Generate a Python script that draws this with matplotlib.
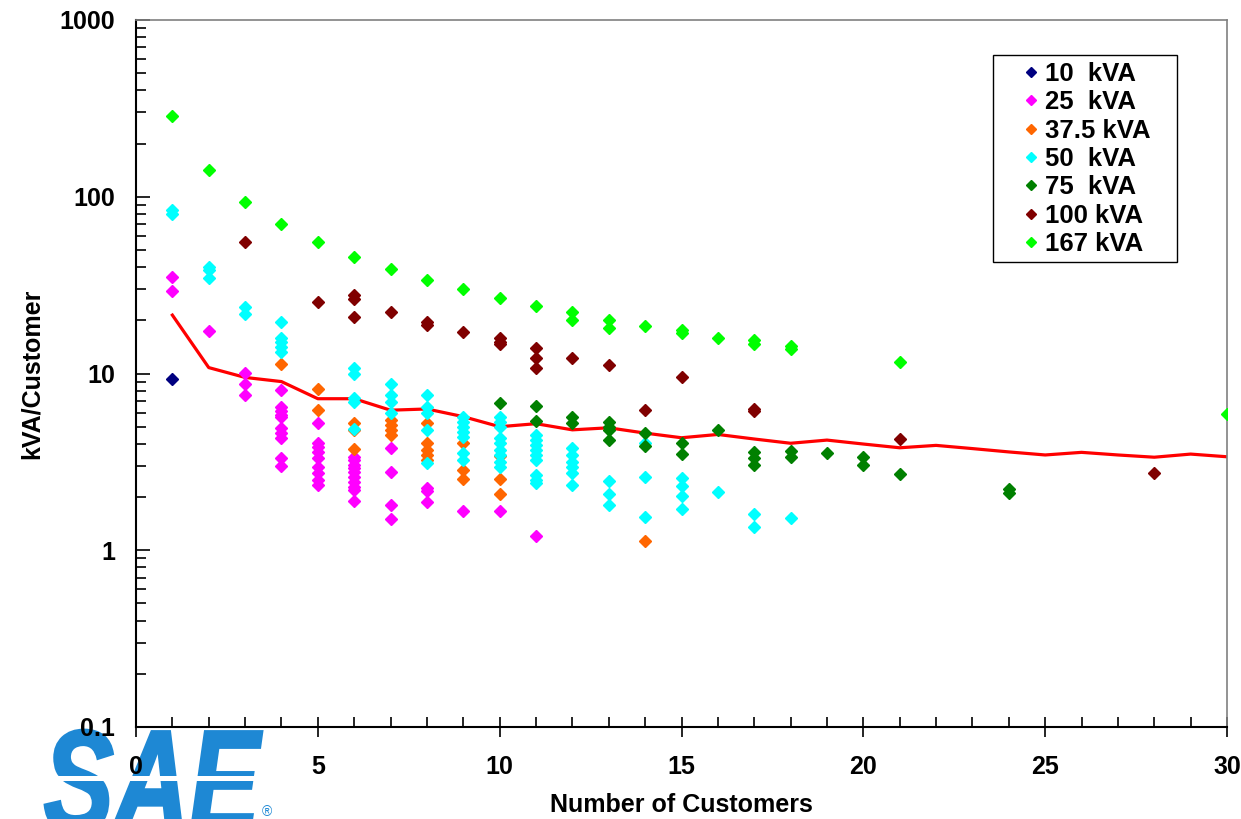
import matplotlib
matplotlib.use("Agg")
import matplotlib.pyplot as plt
from matplotlib.ticker import MultipleLocator, LogLocator, NullFormatter, FuncFormatter
from matplotlib.textpath import TextPath
from matplotlib.patches import PathPatch, Rectangle
from matplotlib.font_manager import FontProperties
from matplotlib.transforms import Affine2D

plt.rcParams['font.family'] = ['Liberation Sans', 'DejaVu Sans']

# ---- data: (number of customers, kVA per customer) ----
cust_10 = [1]
kva_10 = [9.3]

cust_25 = [1, 1, 2, 3, 3, 3,
           4, 4, 4, 4, 4, 4, 4, 4, 4, 4,
           5, 5, 5, 5, 5, 5, 5, 5, 5,
           6, 6, 6, 6, 6, 6, 6, 6, 6, 6,
           7, 7, 7, 7, 8, 8, 8, 9, 10, 11]
kva_25 = [35.3, 29.4, 17.4, 10.1, 8.7, 7.55,
          8.07, 6.49, 6.16, 5.82, 5.65, 4.90, 4.58, 4.30, 3.31, 3.01,
          5.27, 4.03, 3.85, 3.61, 3.31, 2.97, 2.72, 2.50, 2.34,
          3.38, 3.24, 3.04, 2.91, 2.78, 2.61, 2.44, 2.29, 2.19, 1.90,
          3.78, 2.76, 1.80, 1.50, 2.24, 2.17, 1.88, 1.67, 1.67, 1.21]

cust_375 = [4, 5, 5, 6, 6, 6, 7, 7, 7, 7, 8, 8, 8, 8, 8, 9, 9, 9, 10, 10, 10, 14]
kva_375 = [11.3, 8.2, 6.2, 5.23, 4.79, 3.72, 5.46, 5.11, 4.79, 4.49,
           5.23, 4.03, 3.69, 3.47, 3.24, 4.03, 2.85, 2.52, 3.41, 2.52, 2.08, 1.13]

cust_50 = [1, 1, 2, 2, 2, 3, 3, 4, 4, 4, 4, 4,
           6, 6, 6, 6, 6, 7, 7, 7, 7, 8, 8, 8, 8, 8,
           9, 9, 9, 9, 9, 9, 9,
           10, 10, 10, 10, 10, 10, 10, 10, 10,
           11, 11, 11, 11, 11, 11, 11, 11, 11,
           12, 12, 12, 12, 12, 12, 13, 13, 13, 14, 14, 14,
           15, 15, 15, 15, 16, 17, 17, 18]
kva_50 = [84, 80, 40.2, 38.5, 34.6, 23.9, 21.6, 19.5, 15.8, 15.1, 14.2, 13.3,
          10.7, 10.0, 7.24, 6.93, 4.83, 8.69, 7.55, 6.93, 5.96, 7.55, 6.49, 5.96, 4.79, 3.13,
          5.70, 5.33, 5.00, 4.69, 4.39, 3.53, 3.24,
          5.70, 5.33, 5.00, 4.30, 4.03, 3.69, 3.46, 3.17, 2.97,
          4.49, 4.20, 3.93, 3.69, 3.47, 3.24, 2.67, 2.50, 2.39,
          3.78, 3.47, 3.17, 2.97, 2.72, 2.34, 2.48, 2.08, 1.80, 4.06, 2.59, 1.55,
          2.55, 2.31, 2.03, 1.71, 2.13, 1.60, 1.35, 1.52]

cust_75 = [10, 11, 11, 12, 12, 13, 13, 13, 13, 14, 14, 15, 15, 16,
           17, 17, 17, 18, 18, 19, 20, 20, 21, 24, 24]
kva_75 = [6.78, 6.57, 5.39, 5.70, 5.23, 5.33, 5.0, 4.77, 4.20, 4.59, 3.91, 4.03, 3.50, 4.79,
          3.61, 3.31, 3.04, 3.65, 3.38, 3.53, 3.38, 3.04, 2.69, 2.21, 2.10]

cust_100 = [3, 5, 6, 6, 6, 7, 8, 8, 9, 10, 10, 10, 11, 11, 11, 12, 13, 14, 15, 17, 17, 21, 28]
kva_100 = [55.5, 25.5, 27.8, 26.4, 20.9, 22.4, 19.6, 18.8, 17.2, 15.8, 15.1, 14.6,
           14.0, 12.3, 10.8, 12.2, 11.2, 6.19, 9.5, 6.3, 6.1, 4.26, 2.75]

cust_167 = [1, 2, 3, 4, 5, 6, 7, 8, 9, 10, 11, 12, 12, 13, 13, 14, 15, 15, 16,
            17, 17, 18, 18, 21, 30]
kva_167 = [286, 141.7, 93.8, 69.8, 55.5, 45.8, 39.0, 33.8, 30.1, 26.6, 24.2, 22.4, 20.1,
           20.1, 18.2, 18.6, 17.6, 17.0, 15.8, 15.5, 14.7, 14.3, 13.8, 11.6, 5.9]

# average curve
avg_cust = list(range(1, 31))
avg_kva = [21.4, 10.8, 9.5, 9.0, 7.2, 7.2, 6.2, 6.3, 5.7, 5.0,
           5.2, 4.8, 4.93, 4.6, 4.33, 4.52, 4.26, 4.03, 4.2, 3.99,
           3.80, 3.92, 3.76, 3.6, 3.46, 3.58, 3.46, 3.36, 3.50, 3.38]

series = [
    ("10  kVA", cust_10, kva_10, "#000080"),
    ("25  kVA", cust_25, kva_25, "#FF00FF"),
    ("37.5 kVA", cust_375, kva_375, "#FF6600"),
    ("50  kVA", cust_50, kva_50, "#00FFFF"),
    ("75  kVA", cust_75, kva_75, "#008000"),
    ("100 kVA", cust_100, kva_100, "#800000"),
    ("167 kVA", cust_167, kva_167, "#00FF00"),
]


def add_logo(fig):
    """Rough SAE logo drawn as a stretched text path in pixel coords."""
    prop = FontProperties(family="Liberation Sans", weight="bold", style="italic")
    tp = TextPath((0, 0), "SAE", size=100, prop=prop)
    bb = tp.get_extents()
    h = fig.bbox.height
    x0, x1 = 45, 262
    top, bottom = 730, 832
    trans = (Affine2D().translate(-bb.x0, -bb.y0)
             .scale((x1 - x0) / bb.width, (bottom - top) / bb.height)
             .translate(x0, h - bottom))
    logo = PathPatch(trans.transform_path(tp), facecolor="#1E88D4", edgecolor="#1E88D4",
                     lw=2, transform=None, zorder=-2)
    fig.add_artist(logo)
    stripe = Rectangle((40, h - 781), 230, 5, facecolor="white", edgecolor="none",
                       transform=None, zorder=-1)
    fig.add_artist(stripe)
    fig.text(262 / fig.bbox.width, 1 - 812 / h, "\u00ae", color="#1E88D4",
             fontsize=10, ha="left", va="center", zorder=-1)


fig = plt.figure(figsize=(12.41, 8.19), dpi=100)
ax = fig.add_axes([136 / 1241, 1 - 727 / 819, 1091 / 1241, 707 / 819])
ax.set_facecolor("none")

ax.plot(avg_cust, avg_kva, color="#FF0000", lw=2.3, zorder=2)
for label, xs, ys, c in series:
    ax.plot(xs, ys, "D", ms=6.3, color=c, mec=c, linestyle="none", label=label, zorder=3)

ax.set_yscale("log")
ax.set_xlim(0, 30)
ax.set_ylim(0.1, 1000)

ax.xaxis.set_major_locator(MultipleLocator(5))
ax.xaxis.set_minor_locator(MultipleLocator(1))
ax.yaxis.set_major_locator(LogLocator(base=10))
ax.yaxis.set_minor_locator(LogLocator(base=10, subs=range(2, 10)))
ax.yaxis.set_minor_formatter(NullFormatter())
ax.yaxis.set_major_formatter(FuncFormatter(lambda v, p: f"{v:g}"))

ax.tick_params(axis="x", which="major", direction="inout", length=14, width=1.2,
               pad=13, labelsize=18)
ax.tick_params(axis="x", which="minor", direction="in", length=7, width=1.2)
ax.tick_params(axis="y", which="major", direction="in", length=10, width=1.2,
               pad=15, labelsize=18)
ax.tick_params(axis="y", which="minor", direction="in", length=7, width=1.2)
for t in ax.get_xticklabels() + ax.get_yticklabels():
    t.set_fontweight("bold")

for side in ["left", "bottom"]:
    ax.spines[side].set_linewidth(1.5)
    ax.spines[side].set_color("black")
for side in ["top", "right"]:
    ax.spines[side].set_linewidth(1.2)
    ax.spines[side].set_color("#808080")

ax.set_xlabel("Number of Customers", fontsize=18, fontweight="bold")
ax.set_ylabel("kVA/Customer", fontsize=18, fontweight="bold")
ax.xaxis.set_label_coords(0.5, -0.094)
ax.yaxis.set_label_coords(-0.085, 0.5)

# legend box drawn by hand so its padding can match the original
box = Rectangle((0.7855, 0.6577), 0.9542 - 0.7855, 0.9505 - 0.6577, transform=ax.transAxes,
                facecolor="white", edgecolor="black", lw=1.0, zorder=4)
ax.add_patch(box)
leg = ax.legend(loc="upper left", bbox_to_anchor=(0.813, 0.9406), borderaxespad=0,
                prop={"weight": "bold", "size": 18.5}, frameon=False,
                markerscale=0.75, handlelength=0.6, handletextpad=0.27,
                labelspacing=0.17, borderpad=0)
leg.set_zorder(5)

add_logo(fig)

fig.savefig("out.png", dpi=100)
